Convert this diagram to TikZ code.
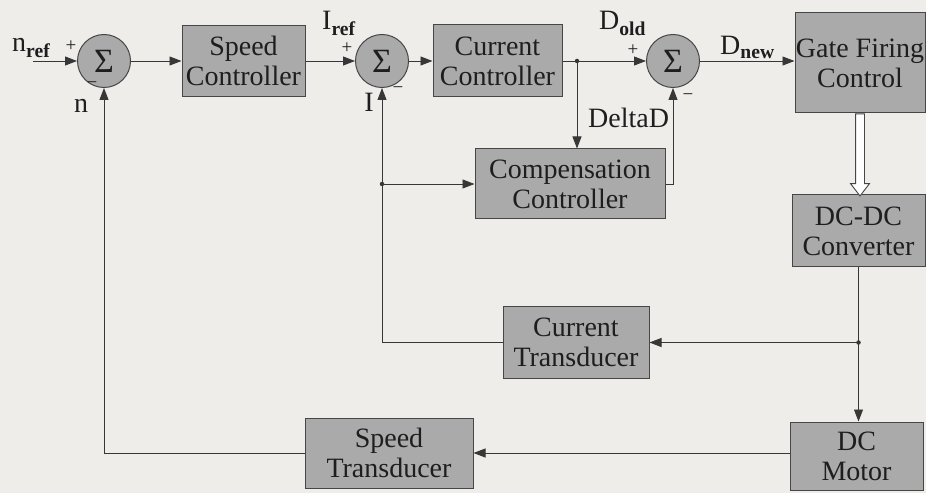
\documentclass[tikz,border=0pt]{standalone}
\usepackage{fontspec}
\setmainfont{Liberation Serif}
\newfontfamily\bdserif{Liberation Serif}
\usepackage{tikz}
\usetikzlibrary{arrows.meta, positioning, calc, shapes.arrows}
\definecolor{BDBack}{RGB}{239, 237, 234}
\definecolor{BDGray}{RGB}{170, 170, 170}
\definecolor{BDEdge}{RGB}{70, 70, 70}
\definecolor{BDLine}{RGB}{55, 55, 55}
\definecolor{BDText}{RGB}{30, 30, 30}

\tikzset{
  block/.style={draw=BDEdge, fill=BDGray, line width=1pt, align=center, inner sep=0pt,
    text=BDText, font=\bdserif\fontsize{28}{30}\selectfont},
  sumnode/.style={circle, draw=BDEdge, fill=BDGray, line width=1pt, minimum size=53pt,
    inner sep=0pt, text=BDText, font=\bdserif\fontsize{34}{34}\selectfont},
  lbl/.style={inner sep=0pt, text=BDText, font=\bdserif\fontsize{28}{30}\selectfont},
  sgn/.style={inner sep=0pt, text=BDText, font=\bdserif\fontsize{19}{19}\selectfont},
  wire/.style={draw=BDLine, line width=0.9pt},
  flow/.style={wire, -{Triangle[length=12pt, width=9pt]}},
  jdot/.style={circle, fill=BDLine, inner sep=0pt, minimum size=4.5pt},
  hollowarrow/.style={single arrow, draw=BDEdge, fill=white, line width=0.9pt,
    inner sep=4pt, single arrow head extend=5pt, single arrow tip angle=75}
}

\begin{document}
\begin{tikzpicture}[x=1pt,y=1pt]
  \path[use as bounding box] (0,0) rectangle (926,493);
  \fill[BDBack] (0,0) rectangle (926,493);

  \node[sumnode] (s1) at (104,432) {Σ};
  \node[block, minimum width=123pt, minimum height=71pt] (spc) at (243.5,432) {Speed\\Controller};
  \node[sumnode] (s2) at (382,432) {Σ};
  \node[block, minimum width=129pt, minimum height=72pt] (cuc) at (497.5,432) {Current\\Controller};
  \node[sumnode] (s3) at (673,432) {Σ};
  \node[block, minimum width=130pt, minimum height=100pt] (gfc) at (860,430) {Gate Firing\\Control};
  \node[block, minimum width=133pt, minimum height=72pt] (dcdc) at (858.5,262) {DC-DC\\Converter};
  \node[block, minimum width=190pt, minimum height=70pt] (cmp) at (570,309) {Compensation\\Controller};
  \node[block, minimum width=146pt, minimum height=71pt] (ctr) at (576,150.5) {Current\\Transducer};
  \node[block, minimum width=133pt, minimum height=68pt] (mot) at (856.5,37) {DC\\Motor};
  \node[block, minimum width=168pt, minimum height=70pt] (str) at (389,40) {Speed\\Transducer};

  \coordinate (nin) at (33,432);
  \coordinate (jd) at (577,432);
  \coordinate (ji) at (s2.south |- cmp.west);
  \coordinate (jm) at (dcdc.south |- ctr.east);

  \draw[flow] (nin) -- (s1.west);
  \draw[flow] (s1) -- (spc);
  \draw[flow] (spc) -- (s2);
  \draw[flow] (s2) -- (cuc);
  \draw[wire] (cuc.east) -- (jd);
  \draw[flow] (jd) -- (s3.west);
  \draw[flow] (s3.east) -- (s3.east -| gfc.west);
  \draw[flow] (jd) -- (jd |- cmp.north);
  \draw[flow] (cmp.east) -| (s3.south);
  \node[hollowarrow, rotate=-90, anchor=tail, minimum height=82pt] (gd) at (gfc.south) {};
  \draw[wire] (dcdc.south) -- (jm);
  \draw[flow] (jm) -- (jm |- mot.north);
  \draw[flow] (jm) -- (ctr.east);
  \draw[flow] (ctr.west) -| (s2.south);
  \draw[flow] (ji) -- (cmp.west);
  \draw[flow] (mot.west |- str.east) -- (str.east);
  \draw[flow] (str.west) -| (s1.south);

  \node[jdot] (djd) at (jd) {};
  \node[jdot] (dji) at (ji) {};
  \node[jdot] (djm) at (jm) {};

  \node[lbl, anchor=base west] (lnref) at (12,441) {n\textsubscript{\bfseries ref}};
  \node[sgn] (p1) at (71,447) {+};
  \node[lbl] (ln) at (81,387) {n};
  \node[sgn] (m1) at (92,408) {−};
  \node[lbl, anchor=base west] (liref) at (322,463) {I\textsubscript{\bfseries ref}};
  \node[sgn] (p2) at (347,445) {+};
  \node[lbl] (li) at (369,391) {I};
  \node[sgn] (m2) at (398,403) {−};
  \node[lbl, anchor=base west] (ldold) at (599,463) {D\textsubscript{\bfseries old}};
  \node[sgn] (p3) at (633,443) {+};
  \node[lbl, anchor=base west] (ldnew) at (720,438) {D\textsubscript{\bfseries new}};
  \node[lbl, anchor=base west] (ldelta) at (588,365) {DeltaD};
  \node[sgn] (m3) at (688,396) {−};
\end{tikzpicture}
\end{document}
